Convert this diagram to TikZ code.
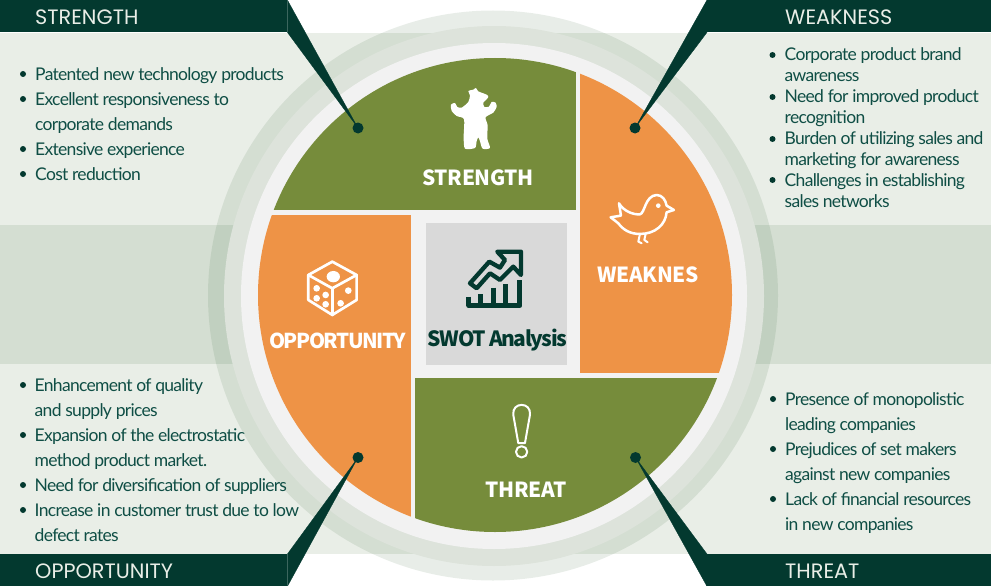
\documentclass[tikz,border=0pt]{standalone}
\usepackage{fontspec}
\setmainfont[LetterSpace=-4]{Lato}
\newfontfamily\headfont{Poppins}
\newfontfamily\labelfont[LetterSpace=-1.5]{Noto Sans CJK KR}
\newfontfamily\tightfont[LetterSpace=-7]{Noto Sans CJK KR}
\definecolor{swotdark}{HTML}{03392F}
\definecolor{swottext}{HTML}{0F4E45}
\definecolor{swotpanel}{HTML}{E9EEE7}
\definecolor{swotveil}{HTML}{2F5F30}
\definecolor{swotringa}{HTML}{DDE3DB}
\definecolor{swotringb}{HTML}{F2F2F2}
\definecolor{swotgreen}{HTML}{768C3B}
\definecolor{swotorange}{HTML}{EE9346}
\definecolor{swotgrey}{HTML}{D9D9D9}
\tikzset{
	veil/.style={fill=swotveil, fill opacity=0.11},
	headbar/.style={fill=swotdark, minimum height=32pt, inner sep=0pt, anchor=north west},
	headtext/.style={text=swotpanel, font=\headfont\fontsize{20.8}{23}\selectfont, inner sep=0pt, anchor=west},
	listtext/.style={text=swottext, font=\fontsize{17.5}{25}\selectfont, align=left, inner sep=0pt, anchor=north west},
	listtight/.style={listtext, font=\fontsize{17.5}{21}\selectfont},
	quadlabel/.style={text=white, font=\labelfont\bfseries\fontsize{20.8}{24}\selectfont, inner sep=0pt},
	pin/.style={circle, fill=swotdark, minimum size=11pt, inner sep=0pt},
	pointer/.style={fill=swotdark, draw=swotdark, line width=0.3pt},
	iconline/.style={draw=white, line width=2.5pt, line join=round, line cap=round}
}
\begin{document}
\begin{tikzpicture}[x=1pt, y=-1pt]
		\useasboundingbox (0,0) rectangle (991,586);

		% panels behind the wheel
		\fill[swotpanel] (0,33) rectangle (991,554);
		\fill[veil] (0,225) rectangle (260,364);
		\fill[veil] (730,225) rectangle (991,364);

		% rings
		\fill[veil] (493,295.5) circle (285);
		\fill[swotringa] (494,296) circle (270);
		\fill[swotringb] (494,296) circle (253);

		% quadrants
		\begin{scope}
			\clip (495,295) circle (237);
			\fill[swotgreen] (250,50) rectangle (576,210);
			\fill[swotorange] (580,50) rectangle (740,373);
			\fill[swotorange] (250,215) rectangle (411,540);
			\fill[swotgreen] (415,378) rectangle (740,540);
		\end{scope}
		\fill[swotgrey] (426,223) rectangle (567,365);

		% bear
		\begin{scope}[shift={(445,82)}, x=0.333pt, y=-0.333pt]
			\fill[white] plot[smooth cycle, tension=0.45] coordinates {
				(70,27) (85,23) (93,18) (100,28) (125,38) (130,45) (122,55) (115,62) (118,75)
				(132,74) (140,60) (152,62) (155,75) (145,92) (122,106) (128,130) (127,170)
				(135,198) (113,200) (105,178) (100,166) (95,178) (90,198) (60,200) (56,165)
				(57,112) (35,102) (20,87) (18,68) (30,63) (37,75) (50,77) (70,60) (75,40)};
		\end{scope}

		% bird
		\begin{scope}[shift={(605,185)}, x=0.333pt, y=-0.333pt]
			\draw[iconline] (42,55) .. controls (55,78) and (85,90) .. (105,88)
				.. controls (120,85) and (120,32) .. (155,30)
				.. controls (172,30) and (182,45) .. (185,62) -- (207,75) -- (185,82)
				.. controls (182,120) and (150,147) .. (105,147)
				.. controls (75,147) and (55,135) .. (40,115) -- (17,97) -- (48,92) -- cycle;
			\draw[iconline, line width=2pt] (105,147) -- (100,170) -- (110,175);
			\draw[iconline, line width=2pt] (122,147) -- (118,165) -- (128,172);
			\fill[white] (160,62) circle (7);
		\end{scope}

		% dice
		\begin{scope}[shift={(300,255)}, x=0.333pt, y=-0.333pt]
			\draw[iconline, line width=2.7pt] (97,20) -- (170,60) -- (170,135) -- (97,180) -- (25,135) -- (25,60) -- cycle;
			\draw[iconline, line width=2.7pt] (25,60) -- (97,100) -- (170,60);
			\draw[iconline, line width=2.7pt] (97,100) -- (97,180);
			\fill[white] (100,65) ellipse (20 and 17);
			\foreach \px/\py in {50/100, 77/120, 50/130, 77/148, 145/107, 122/145}
				\fill[white] (\px,\py) circle (10);
		\end{scope}

		% exclamation mark
		\begin{scope}[shift={(480,290)}, x=0.333pt, y=-0.333pt]
			\draw[iconline, line width=2pt] (115,460) -- (100,375) .. controls (95,335) and (155,335) .. (150,375) -- (135,460) -- cycle;
			\draw[iconline, line width=2pt] (125,486) circle (17);
		\end{scope}

		% chart
		\begin{scope}[shift={(460,245)}, x=0.333pt, y=-0.333pt]
			\draw[swotdark, line width=4.3pt, line join=round] (112,20) -- (183,20) -- (183,90) -- (160,65) -- (120,105) -- (90,85) -- (50,130) -- (30,115) -- (88,50) -- (120,68) -- (135,45) -- cycle;
			\draw[swotdark, line width=5pt, line join=round] (27,155) -- (27,182) -- (180,182) -- (180,105);
			\foreach \bx/\by in {62/148, 100/128, 137/118}
				\draw[swotdark, line width=5pt] (\bx,\by) -- (\bx,182);
		\end{scope}

		% wheel labels
		\node[quadlabel] (strengthlabel) at (478,178) {STRENGTH};
		\node[quadlabel] (weaklabel) at (648,275) {WEAKNES};
		\node[quadlabel, font=\tightfont\bfseries\fontsize{20.5}{24}\selectfont] (opplabel) at (337.5,341) {OPPORTUNITY};
		\node[quadlabel] (threatlabel) at (526,490) {THREAT};
		\node[quadlabel, text=swotdark, font=\tightfont\bfseries\fontsize{21}{24}\selectfont] (swotlabel) at (497.5,340) {SWOT Analysis};

		% lists
		\foreach \by in {74, 99, 149, 174}
			\fill[swotdark] (23,\by) circle (3);
		\node[listtext] (strengthlist) at (35,67) {Patented new technology products\\Excellent responsiveness to\\corporate demands\\Extensive experience\\Cost reduction};

		\foreach \by in {55, 97, 139, 180}
			\fill[swotdark] (772.5,\by) circle (3);
		\node[listtight] (weaklist) at (784.5,47.5) {Corporate product brand\\awareness\\Need for improved product\\recognition\\Burden of utilizing sales and\\marketing for awareness\\Challenges in establishing\\sales networks};

		\foreach \by in {385, 435, 485, 510}
			\fill[swotdark] (23,\by) circle (3);
		\node[listtext] (opplist) at (34.5,378) {Enhancement of quality\\and supply prices\\Expansion of the electrostatic\\method product market.\\Need for diversification of suppliers\\Increase in customer trust due to low\\defect rates};

		\foreach \by in {399, 449, 499}
			\fill[swotdark] (773,\by) circle (3);
		\node[listtext] (threatlist) at (785,392) {Presence of monopolistic\\leading companies\\Prejudices of set makers\\against new companies\\Lack of financial resources\\in new companies};

		% header bars
		\node[headbar, minimum width=287pt] (strengthbar) at (0,0) {};
		\node[headbar, minimum width=284pt] (weakbar) at (707,0) {};
		\node[headbar, minimum width=287pt] (oppbar) at (0,554) {};
		\node[headbar, minimum width=284pt] (threatbar) at (707,554) {};

		\node[pin] (strengthpin) at (358,128) {};
		\node[pin] (weakpin) at (635,128) {};
		\node[pin] (opppin) at (358,457.5) {};
		\node[pin] (threatpin) at (635.5,457.5) {};

		\fill[pointer] (strengthbar.north east) -- (strengthbar.south east) -- (strengthpin.center) -- cycle;
		\fill[pointer] (weakbar.north west) -- (weakbar.south west) -- (weakpin.center) -- cycle;
		\fill[pointer] (oppbar.north east) -- (oppbar.south east) -- (opppin.center) -- cycle;
		\fill[pointer] (threatbar.north west) -- (threatbar.south west) -- (threatpin.center) -- cycle;

		\node[headtext] (strengthhead) at (35,17) {STRENGTH};
		\node[headtext] (weakhead) at (785,17) {WEAKNESS};
		\node[headtext] (opphead) at (35,571.5) {OPPORTUNITY};
		\node[headtext] (threathead) at (785,571.5) {THREAT};
	\end{tikzpicture}
\end{document}
